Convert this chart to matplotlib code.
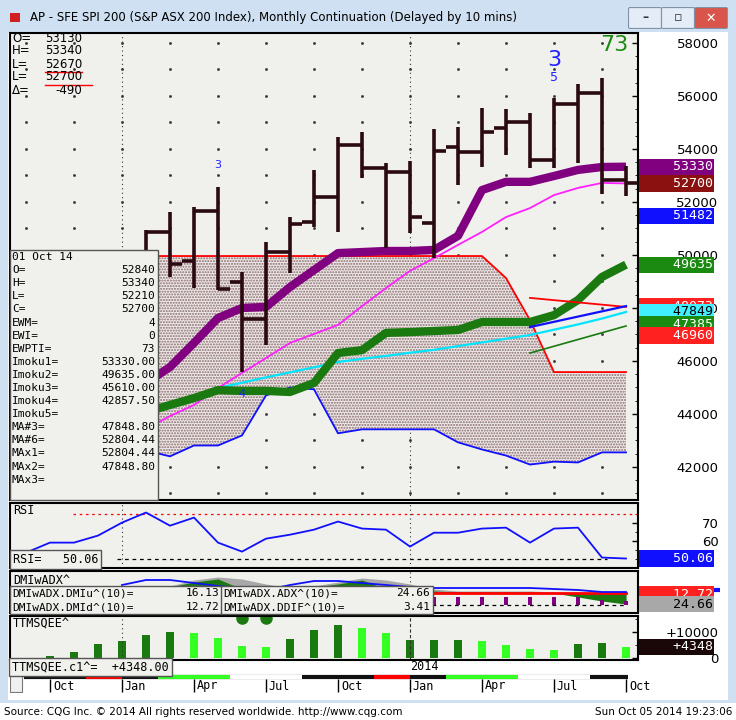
import numpy as np
import matplotlib
matplotlib.use("Agg")
import matplotlib.pyplot as plt
from matplotlib.patches import Rectangle, FancyBboxPatch

W, H = 736, 720

# month index: 0 = Oct 2012 ... 24 = Oct 2014
bar_idx = list(range(4, 25))
bar_open = [50000, 50870, 49770, 51660, 48980, 47580, 50110, 51240, 52190, 54150, 53280, 53130,
            51210, 54075, 53890, 54790, 55020, 53580, 55700, 56120, 52840]
bar_high = [50940, 51620, 51810, 52570, 49360, 50490, 51430, 53210, 54450, 54640, 53470, 53550,
            54750, 54830, 55550, 55510, 55360, 55920, 56450, 56680, 53340]
bar_low = [49400, 49170, 48750, 48680, 45580, 46600, 49320, 51060, 50870, 52900, 50270, 50830,
           49890, 52640, 53320, 53770, 53280, 53280, 53470, 52300, 52210]
bar_close = [50870, 49660, 51660, 48720, 47580, 50110, 51170, 52190, 54150, 53280, 53130, 51430,
             53920, 53890, 54640, 55020, 53580, 55700, 56120, 52830, 52700]

line_idx = list(range(4, 25))
ichi_purple = [45170, 45770, 46680, 47620, 48000, 48040, 48790, 49430, 50070, 50110, 50150, 50150,
               50190, 50720, 52450, 52760, 52760, 52980, 53210, 53320, 53330]
ma_magenta = [43430, 43920, 44340, 44980, 45550, 46110, 46680, 47020, 47360, 48070, 48750, 49400,
              49880, 50380, 50870, 51430, 51770, 52260, 52530, 52720, 52700]
ichi_green = [44070, 44340, 44600, 44900, 44870, 44870, 44830, 45170, 46300, 46410, 47060, 47090,
              47130, 47170, 47470, 47470, 47470, 47730, 48300, 49170, 49635]
ma_cyan = [44070, 44380, 44680, 44980, 45180, 45380, 45570, 45760, 45960, 46080, 46190, 46310,
           46420, 46560, 46700, 46840, 46980, 47180, 47380, 47600, 47849]
cloud_top = [49960, 49960, 49960, 49960, 49960, 49960, 49960, 49960, 49960, 49960, 49960, 49960,
             49960, 49960, 49960, 49130, 47540, 45580, 45580, 45580, 45580]
cloud_bot = [42620, 42400, 42810, 42810, 43190, 44700, 45000, 44930, 43270, 43420, 43420, 43420,
             43420, 42930, 42660, 42430, 42090, 42200, 42170, 42550, 42550]

fwd_idx = [20, 24]
fwd_red = [48380, 48040]
fwd_blue = [47280, 48070]
fwd_green = [46300, 47320]

rsi_idx = list(range(-1, 25))
rsi = [53.3, 58.9, 58.9, 62.8, 70.0, 75.6, 68.3, 72.8, 58.9, 53.9, 61.1, 63.3, 66.1, 70.6, 66.7,
       66.1, 56.7, 64.4, 64.4, 66.7, 67.2, 58.9, 66.7, 67.2, 50.6, 50.06]

dmi_idx = list(range(3, 25))
dmi_blue = [28, 33, 33, 30, 27, 25, 23, 28, 32, 32, 30, 28, 26, 25, 25, 25, 25, 25, 24, 23, 21, 21]
dmi_gray = [22, 24, 27, 33, 36, 34, 29, 25, 27, 31, 35, 33, 29, 24, 22, 22, 22, 22, 21, 18, 13, 9]
dmi_green = [22, 23, 26, 31, 34, 24, 22, 23, 26, 29, 33, 24, 21, 22, 21, 21, 21, 21, 20, 16, 12, 9]
dmi_red_idx = list(range(15, 25))
dmi_red = [20, 20, 20, 20, 20, 20, 20, 20, 20, 20]
dmi_bar_idx = list(range(16, 25))
dmi_bar = [16, 16, 16, 16, 16, 16, 16, 13, 12]

ttm_idx = list(range(0, 25))
ttm = [800, 2300, 5400, 6500, 8800, 10000, 9600, 7700, 4700, 4300, 7300, 10800, 12700, 11500, 9600,
       6900, 6900, 6900, 6700, 5100, 3700, 3300, 5400, 5800, 4348]
ttm_dark = [1, 1, 1, 1, 1, 1, 0, 0, 0, 0, 1, 1, 1, 0, 0, 1, 1, 1, 0, 0, 0, 0, 1, 1, 0]

month_labels = ["Oct", "Jan", "Apr", "Jul", "Oct", "Jan", "Apr", "Jul", "Oct"]
month_label_idx = [0, 3, 6, 9, 12, 15, 18, 21, 24]
price_ticks = [42000, 44000, 46000, 48000, 50000, 52000, 54000, 56000, 58000]

BG = "#f0f0ec"
BAR = "#2a0a10"


def px_ax(x0, y0, x1, y1):
    return fig.add_axes([x0 / W, 1 - y1 / H, (x1 - x0) / W, (y1 - y0) / H])


def style(ax):
    ax.set_facecolor(BG)
    ax.set_xlim((10 - 50) / 24, (638 - 50) / 24)
    ax.set_xticks([])
    for s in ax.spines.values():
        s.set_color("black")
        s.set_linewidth(1.5)
    ax.yaxis.tick_right()
    ax.tick_params(axis="y", direction="in", length=4, labelsize=9.5, pad=58, width=1)
    for lbl in ax.get_yticklabels():
        lbl.set_horizontalalignment("right")


def rbox(ax, y, txt, fc, tc="white"):
    ax.text(1.004, y, txt.rjust(9), transform=ax.get_yaxis_transform(), ha="left", va="center",
            fontsize=9.5, color=tc, clip_on=False, family="DejaVu Sans Mono",
            bbox=dict(boxstyle="square,pad=0.12", fc=fc, ec=fc, lw=0))


fig = plt.figure(figsize=(W / 100, H / 100), dpi=100)
fig.patch.set_facecolor("white")

# window chrome
for rect in [(0, 0, 736, 32), (0, 32, 8, 668), (728, 32, 8, 668), (0, 700, 736, 3)]:
    x, y, w, h = rect
    fig.patches.append(Rectangle((x / W, 1 - (y + h) / H), w / W, h / H, transform=fig.transFigure,
                                 fc="#cfe0f2", ec="none", zorder=-5))
fig.patches.append(Rectangle((10 / W, 1 - 22 / H), 10 / W, 9 / H, transform=fig.transFigure,
                             fc="#d02020", ec="none"))
fig.text(30 / W, 1 - 18 / H, "AP - SFE SPI 200 (S&P ASX 200 Index), Monthly Continuation (Delayed by 10 mins)",
         fontsize=8.5, va="center", family="DejaVu Sans")
for bx, fc, g in [(630, "#e4edf7", "–"), (663, "#e4edf7", "▫"), (696, "#d9544a", "✕")]:
    fig.patches.append(FancyBboxPatch((bx / W, 1 - 27 / H), 30 / W, 18 / H, transform=fig.transFigure,
                                      boxstyle="round,pad=0.002", fc=fc, ec="#7f93ab", lw=0.8))
    fig.text((bx + 15) / W, 1 - 18 / H, g, ha="center", va="center", fontsize=9,
             color="white" if g == "✕" else "#333", fontweight="bold")
fig.text(4 / W, 1 - 712 / H, "Source: CQG Inc. © 2014 All rights reserved worldwide. http://www.cqg.com",
         fontsize=7.5, va="center")
fig.text(732 / W, 1 - 712 / H, "Sun Oct 05 2014 19:23:06", fontsize=7.5, va="center", ha="right")

# ---------------- main price panel
ax = px_ax(10, 33, 638, 500)
style(ax)
ax.set_ylim(40753, 58377)
ax.set_yticks(price_ticks)
ax.set_yticklabels([str(p) for p in price_ticks])
ax.set_yticks(np.arange(41000, 58001, 500), minor=True)
ax.tick_params(axis="y", which="minor", direction="in", length=2)
gx, gy = np.meshgrid(np.arange(-1, 25, 2), np.arange(41000, 58001, 1000))
ax.plot(gx.ravel(), gy.ravel(), ls="none", marker="s", ms=0.9, color="#333", zorder=0)
for xv in [3, 15]:
    ax.axvline(xv, color="#333", lw=0.8, ls=(0, (1, 3)), zorder=0)

ax.fill_between(line_idx, cloud_bot, cloud_top, fc="#eeeaea", ec="#8a6a6a", hatch="......",
                lw=0, zorder=1)
ax.plot(line_idx, cloud_top, color="#ff0000", lw=1.3, zorder=2)
ax.plot(line_idx, cloud_bot, color="#1010ff", lw=1.3, zorder=2)
ax.plot(line_idx, ma_cyan, color="#00e5ff", lw=1.6, zorder=3)
ax.plot(line_idx, ma_magenta, color="#ff20ff", lw=1.3, zorder=3)
ax.plot(line_idx, ichi_green, color="#1a7a10", lw=6, zorder=3, solid_capstyle="butt")
ax.plot(fwd_idx, fwd_red, color="#ff0000", lw=1.3, zorder=3)
ax.plot(fwd_idx, fwd_blue, color="#1010ff", lw=1.6, zorder=3)
ax.plot(fwd_idx, fwd_green, color="#1a7a10", lw=1.2, zorder=3)
ax.plot(line_idx, ichi_purple, color="#800080", lw=6, zorder=4, solid_capstyle="butt")
for i, o, h, l, c in zip(bar_idx, bar_open, bar_high, bar_low, bar_close):
    ax.vlines(i, l, h, color=BAR, lw=2.6, zorder=5)
    ax.hlines(o, i - 0.5, i, color=BAR, lw=2.6, zorder=5)
    ax.hlines(c, i, i + (0.9 if i == 24 else 0.5), color=BAR, lw=2.6, zorder=5)

ax.text(7, 53300, "3", color="#2020ff", fontsize=8, ha="center")
ax.text(8, 44650, "4", color="#2020ff", fontsize=8, ha="center")
ax.text(21, 56680, "5", color="#2020ff", fontsize=9, ha="center", va="center")
ax.text(21, 57360, "3", color="#2020ff", fontsize=16, ha="center", va="center")
ax.text(23.5, 57920, "73", color="#1a8a10", fontsize=16, ha="center", va="center")

rbox(ax, 53330, "53330", "#800080")
rbox(ax, 52700, "52700", "#8b1010")
rbox(ax, 51482, "51482", "#1010ff")
rbox(ax, 49635, "49635", "#1a8a10")
rbox(ax, 48073, "48073", "#ff2020")
rbox(ax, 47849, "47849", "#40f0ff", tc="black")
rbox(ax, 47385, "47385", "#1a8a10")
rbox(ax, 46960, "46960", "#ff2020")

hdr = [("O=", "53130"), ("H=", "53340"), ("L=", "52670"), ("L=", "52700"), ("Δ=", "-490")]
for k, (a, b) in enumerate(hdr):
    yy = 38 + k * 13
    fig.text(12 / W, 1 - yy / H, a, fontsize=8.5, va="center")
    fig.text(82 / W, 1 - yy / H, b, fontsize=8.5, va="center", ha="right")
for yy, x1 in [(72, 82), (85, 92)]:
    fig.lines.append(plt.Line2D([45 / W, x1 / W], [1 - yy / H, 1 - yy / H], color="red", lw=1,
                                transform=fig.transFigure))

leg = [("01 Oct 14", ""), ("O=", "52840"), ("H=", "53340"), ("L=", "52210"), ("C=", "52700"),
       ("EWM=", "4"), ("EWI=", "0"), ("EWPTI=", "73"), ("Imoku1=", "53330.00"),
       ("Imoku2=", "49635.00"), ("Imoku3=", "45610.00"), ("Imoku4=", "42857.50"), ("Imoku5=", ""),
       ("MA#3=", "47848.80"), ("MA#6=", "52804.44"), ("MAx1=", "52804.44"), ("MAx2=", "47848.80"),
       ("MAx3=", "")]
fig.patches.append(Rectangle((10 / W, 1 - 500 / H), 148 / W, 250 / H, transform=fig.transFigure,
                             fc=BG, ec="#555", lw=1, zorder=10))
for k, (a, b) in enumerate(leg):
    yy = 257 + k * 13.1
    fig.text(12 / W, 1 - yy / H, a, fontsize=8, va="center", family="DejaVu Sans Mono", zorder=11)
    if b:
        fig.text(155 / W, 1 - yy / H, b, fontsize=8, va="center", ha="right",
                 family="DejaVu Sans Mono", zorder=11)

# ---------------- RSI
ar = px_ax(10, 503, 638, 568)
style(ar)
ar.set_ylim(44.8, 80.9)
ar.set_yticks([60, 70])
ar.set_yticks([50, 55, 65, 75], minor=True)
ar.tick_params(axis="y", which="minor", direction="in", length=2)
ar.axhline(75, color="red", lw=0.9, ls=(0, (2, 3)), xmin=0.1)
ar.axhline(50, color="black", lw=0.9, ls=(0, (3, 3)), xmin=0.17, xmax=0.95)
for xv in [3, 15]:
    ar.axvline(xv, color="#333", lw=0.8, ls=(0, (1, 3)))
ar.plot(rsi_idx, rsi, color="#1010ff", lw=1.3)
ar.text(0.005, 0.88, "RSI", transform=ar.transAxes, fontsize=8.5, family="DejaVu Sans Mono", va="center")
ar.text(0.004, 0.13, "RSI=   50.06", transform=ar.transAxes, fontsize=8.5, family="DejaVu Sans Mono",
        va="center", bbox=dict(boxstyle="square,pad=0.25", fc=BG, ec="#555", lw=1))
rbox(ar, 50.06, "50.06", "#1010ff")

# ---------------- DMI
ad = px_ax(10, 571, 638, 613)
style(ad)
ad.set_ylim(0, 42)
ad.set_yticks([])
ad.axhline(8, color="black", lw=0.9, ls=(0, (3, 3)), xmin=0.6, xmax=0.98)
ad.axvline(15, color="#333", lw=0.8, ls=(0, (1, 3)))
ad.fill_between(dmi_idx, 20, dmi_gray, color="#a8a8a8", lw=0)
ad.fill_between(dmi_idx, 20, dmi_green, color="#1a7a10", lw=0)
ad.bar(dmi_bar_idx, [b - 8 for b in dmi_bar], bottom=8, width=0.2, color="#800080")
ad.plot(dmi_red_idx, dmi_red, color="#ff0000", lw=2)
ad.plot(dmi_idx, dmi_blue, color="#1010ff", lw=1.3)
ad.text(0.005, 0.78, "DMIwADX^", transform=ad.transAxes, fontsize=8.5, family="DejaVu Sans Mono", va="center")
fig.patches.append(Rectangle((10 / W, 1 - 614 / H), 423 / W, 28 / H, transform=fig.transFigure,
                             fc=BG, ec="#555", lw=1, zorder=10))
fig.lines.append(plt.Line2D([221 / W, 221 / W], [1 - 614 / H, 1 - 586 / H], color="#555", lw=1,
                            transform=fig.transFigure, zorder=11))
for yy, a, b, c, d in [(593, "DMIwADX.DMIu^(10)=", "16.13", "DMIwADX.ADX^(10)=", "24.66"),
                       (607, "DMIwADX.DMId^(10)=", "12.72", "DMIwADX.DDIF^(10)=", "3.41")]:
    fig.text(12 / W, 1 - yy / H, a, fontsize=8, va="center", family="DejaVu Sans Mono", zorder=11)
    fig.text(219 / W, 1 - yy / H, b, fontsize=8, va="center", ha="right", family="DejaVu Sans Mono", zorder=11)
    fig.text(223 / W, 1 - yy / H, c, fontsize=8, va="center", family="DejaVu Sans Mono", zorder=11)
    fig.text(430 / W, 1 - yy / H, d, fontsize=8, va="center", ha="right", family="DejaVu Sans Mono", zorder=11)
ad.hlines(23, 1.0, 1.13, transform=ad.get_yaxis_transform(), color="#1010ff", lw=3, clip_on=False)
rbox(ad, 19, "12.72", "#ff2020")
rbox(ad, 9, "24.66", "#a8a8a8", tc="black")

# ---------------- TTM squeeze
at = px_ax(10, 616, 638, 660)
style(at)
at.set_ylim(-700, 16200)
at.set_yticks([0, 10000])
at.set_yticklabels(["0", "+10000"])
at.set_yticks([5000, 15000], minor=True)
at.tick_params(axis="y", which="minor", direction="in", length=2)
at.axvline(3, color="#333", lw=0.8, ls=(0, (1, 3)))
at.axvline(15, color="#333", lw=0.8, ls=(0, (3, 2)))
at.bar(ttm_idx, ttm, width=0.32, color=["#1a7a10" if d else "#33ff22" for d in ttm_dark])
at.plot([8, 9], [15600, 15600], ls="none", marker="o", ms=8, color="#1a7a10", clip_on=True)
at.text(0.005, 0.85, "TTMSQEE^", transform=at.transAxes, fontsize=8.5, family="DejaVu Sans Mono", va="center")
rbox(at, 4348, "+4348", "#1a0808")
fig.text(12 / W, 1 - 667 / H, "TTMSQEE.c1^=  +4348.00", fontsize=8.5, va="center",
         family="DejaVu Sans Mono", zorder=11,
         bbox=dict(boxstyle="square,pad=0.25", fc=BG, ec="#555", lw=1))

# ---------------- date axis
ax_d = px_ax(10, 661, 638, 693)
ax_d.set_xlim((10 - 50) / 24, (638 - 50) / 24)
ax_d.set_ylim(0, 32)
ax_d.axis("off")
ax_d.add_patch(Rectangle((-1.67, 1), 0.5, 27, fc="#f0f0f0", ec="#777", lw=0.8))
ax_d.hlines(16, -1.1, 24.1, color="#111", lw=3)
for x0, x1, cc in [(1.5, 3, "red"), (4.5, 7.5, "#33ff22"), (7.5, 10.5, "white"),
                   (13.5, 15, "red"), (16.5, 19.5, "#33ff22"), (19.5, 22.5, "white")]:
    ax_d.hlines(16, x0, x1, color=cc, lw=3)
ax_d.text(15, 26, "2014", fontsize=8.5, va="center", family="DejaVu Sans Mono")
for i, m in zip(month_label_idx, month_labels):
    ax_d.vlines(i, 1, 14, color="black", lw=1)
    ax_d.text(i + 0.12, 7, m, fontsize=8.5, va="center", family="DejaVu Sans Mono")

fig.savefig("out.png", dpi=100, facecolor=fig.get_facecolor())
